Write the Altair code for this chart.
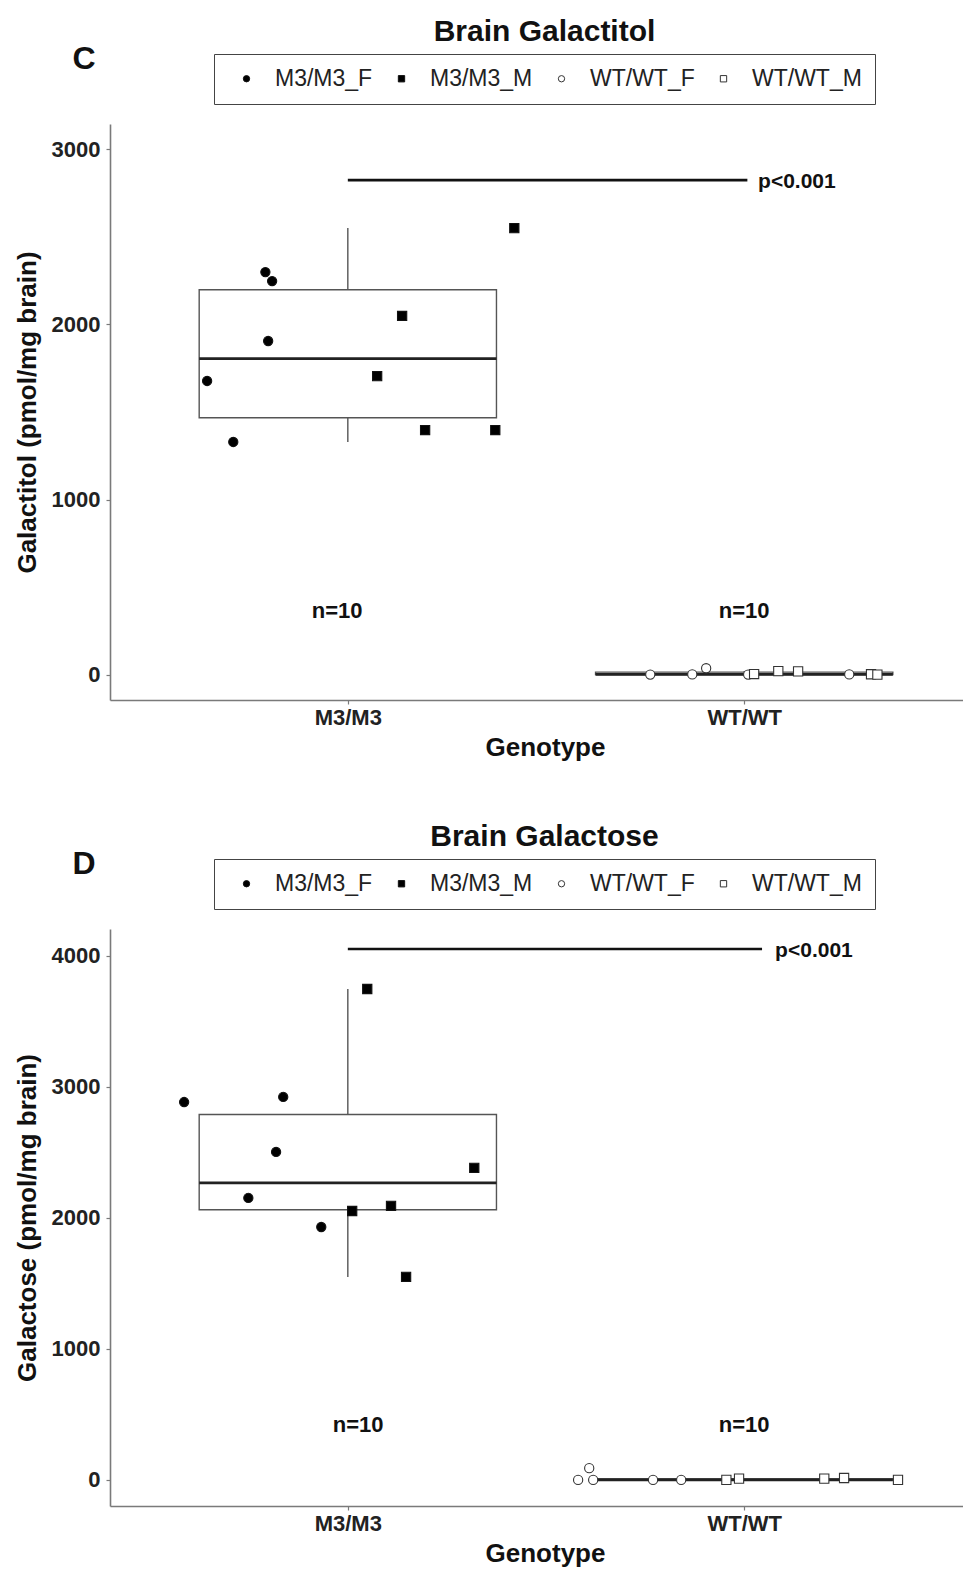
import altair as alt
import pandas as pd

FONT = "Liberation Sans"

genotypes = ["M3/M3", "WT/WT"]
groups = ["M3/M3_F", "M3/M3_M", "WT/WT_F", "WT/WT_M"]
group_shapes = ["circle", "square", "circle", "square"]
group_fills = ["black", "black", "white", "white"]
group_strokes = ["#111111", "#111111", "#333333", "#333333"]
n_labels = ["n=10", "n=10"]

# ---- Panel C : Brain Galactitol ----
c_group = ["M3/M3_F"] * 5 + ["M3/M3_M"] * 5 + ["WT/WT_F"] * 5 + ["WT/WT_M"] * 5
c_xpos = [0.792, 0.809, 0.799, 0.645, 0.711,
          1.420, 1.137, 1.074, 1.195, 1.372,
          1.763, 1.869, 1.904, 2.010, 2.265,
          2.025, 2.086, 2.136, 2.320, 2.336]
c_value = [2298, 2247, 1905, 1677, 1329,
           2549, 2048, 1705, 1397, 1397,
           2, 3, 38, 2, 3,
           5, 22, 20, 4, 2]
c_yticks = [0, 1000, 2000, 3000]
c_ydomain = [-143, 3143]
c_sig_x = [1.0, 2.008]
c_sig_y = 2823
c_p_pos = [2.035, 2812]
c_n_x = [0.973, 2.0]
c_n_y = 365

# ---- Panel D : Brain Galactose ----
d_group = ["M3/M3_F"] * 5 + ["M3/M3_M"] * 5 + ["WT/WT_F"] * 5 + ["WT/WT_M"] * 5
d_xpos = [0.587, 0.837, 0.819, 0.749, 0.933,
          1.049, 1.319, 1.011, 1.109, 1.147,
          1.581, 1.609, 1.619, 1.770, 1.841,
          1.955, 1.987, 2.202, 2.252, 2.388]
d_value = [2885, 2924, 2504, 2153, 1931,
           3748, 2382, 2053, 2092, 1550,
           0, 90, 0, 0, 0,
           0, 10, 10, 15, 0]
d_yticks = [0, 1000, 2000, 3000, 4000]
d_ydomain = [-199, 4206]
d_sig_x = [1.0, 2.045]
d_sig_y = 4053
d_p_pos = [2.078, 4038]
d_n_x = [1.026, 2.0]
d_n_y = 420

X_DOMAIN = [0.4, 2.552]
label_expr = f"datum.value == 1 ? '{genotypes[0]}' : '{genotypes[1]}'"


def panel(title, letter, ytitle, grp, xs, vals, yticks, ydomain,
          sig_x, sig_y, p_pos, n_x, n_y, height):
    pts = pd.DataFrame({"group": grp, "xpos": xs, "value": vals})
    pts["genotype"] = pts["group"].str.rsplit("_", n=1).str[0]

    xs_ = alt.Scale(domain=X_DOMAIN, nice=False, zero=False)
    ys_ = alt.Scale(domain=ydomain, nice=False, zero=False)
    xaxis = alt.Axis(values=[1, 2], labelExpr=label_expr, title="Genotype",
                     tickSize=4, labelPadding=3, titlePadding=6, labelFlush=False,
                     titleX=435)
    yaxis = alt.Axis(values=yticks, title=ytitle, format="d",
                     tickSize=4, labelPadding=6, titlePadding=11)

    stats = (
        alt.Chart(pts)
        .transform_joinaggregate(q1="q1(value)", q3="q3(value)", med="median(value)",
                                 groupby=["genotype"])
        .transform_calculate(lo="datum.q1 - 1.5*(datum.q3 - datum.q1)",
                             hi="datum.q3 + 1.5*(datum.q3 - datum.q1)")
        .transform_filter("datum.value >= datum.lo && datum.value <= datum.hi")
        .transform_aggregate(wlo="min(value)", whi="max(value)",
                             groupby=["genotype", "q1", "q3", "med"])
        .transform_calculate(pos=f"indexof({genotypes!r}, datum.genotype) + 1")
        .transform_calculate(xl="datum.pos - 0.375", xr="datum.pos + 0.375")
    )

    whisker = stats.mark_rule(color="#555555", strokeWidth=1.4).encode(
        x=alt.X("pos:Q", scale=xs_, axis=xaxis),
        y=alt.Y("wlo:Q", scale=ys_, axis=yaxis),
        y2="whi:Q",
    )
    box = stats.mark_rect(fill="white", stroke="#555555", strokeWidth=1.4).encode(
        x=alt.X("xl:Q", scale=xs_), x2="xr:Q",
        y=alt.Y("q1:Q", scale=ys_), y2="q3:Q",
    )
    median = stats.mark_rule(color="#222222", strokeWidth=2.8).encode(
        x=alt.X("xl:Q", scale=xs_), x2="xr:Q",
        y=alt.Y("med:Q", scale=ys_),
    )

    leg = alt.Legend(
        title=None, orient="none", legendX=104, legendY=-70,
        direction="horizontal", columns=4,
        labelFont=FONT, labelFontSize=23, labelColor="#222222",
        symbolSize=40, symbolStrokeWidth=1,
        strokeColor="#444444", fillColor="white", padding=13,
        columnPadding=9, labelOffset=17, symbolOffset=8,
    )
    points = alt.Chart(pts).mark_point(
        filled=True, size=85, strokeWidth=1.1, opacity=1
    ).encode(
        x=alt.X("xpos:Q", scale=xs_),
        y=alt.Y("value:Q", scale=ys_),
        shape=alt.Shape("group:N", scale=alt.Scale(domain=groups, range=group_shapes), legend=leg),
        fill=alt.Fill("group:N", scale=alt.Scale(domain=groups, range=group_fills), legend=leg),
        stroke=alt.Stroke("group:N", scale=alt.Scale(domain=groups, range=group_strokes), legend=leg),
    )

    sig = alt.Chart(pd.DataFrame({"x1": [sig_x[0]], "x2": [sig_x[1]], "y": [sig_y]})).mark_rule(
        color="#111111", strokeWidth=2.6
    ).encode(x=alt.X("x1:Q", scale=xs_), x2="x2:Q", y=alt.Y("y:Q", scale=ys_))

    ptxt = alt.Chart(pd.DataFrame({"x": [p_pos[0]], "y": [p_pos[1]], "t": ["p<0.001"]})).mark_text(
        align="left", baseline="middle", font=FONT, fontSize=21, fontWeight="bold", color="#111111"
    ).encode(x=alt.X("x:Q", scale=xs_), y=alt.Y("y:Q", scale=ys_), text="t:N")

    ntxt = alt.Chart(pd.DataFrame({"x": n_x, "y": [n_y] * 2, "t": n_labels})).mark_text(
        align="center", baseline="middle", font=FONT, fontSize=22, fontWeight="bold", color="#111111"
    ).encode(x=alt.X("x:Q", scale=xs_), y=alt.Y("y:Q", scale=ys_), text="t:N")

    letter_txt = alt.Chart(pd.DataFrame({"t": [letter]})).mark_text(
        align="center", baseline="middle", font=FONT, fontSize=32, fontWeight="bold", color="#111111"
    ).encode(x=alt.value(-26), y=alt.value(-65), text="t:N")

    return alt.layer(whisker, box, median, points, sig, ptxt, ntxt, letter_txt).properties(
        width=853, height=height,
        title=alt.TitleParams(text=title, font=FONT, fontSize=30, fontWeight="bold",
                              anchor="middle", frame="group", offset=-34, dx=8,
                              baseline="bottom", color="#111111"),
    )


c_chart = panel("Brain Galactitol", "C", "Galactitol (pmol/mg brain)", c_group, c_xpos, c_value,
                c_yticks, c_ydomain, c_sig_x, c_sig_y, c_p_pos, c_n_x, c_n_y, 576)
d_chart = panel("Brain Galactose", "D", "Galactose (pmol/mg brain)", d_group, d_xpos, d_value,
                d_yticks, d_ydomain, d_sig_x, d_sig_y, d_p_pos, d_n_x, d_n_y, 577)

chart = (
    alt.vconcat(c_chart, d_chart, spacing=62)
    .resolve_scale(shape="independent", fill="independent", stroke="independent")
    .resolve_legend(shape="independent", fill="independent", stroke="independent")
    .properties(padding={"left": 6, "top": 9, "right": 0, "bottom": 10})
    .configure_view(stroke=None)
    .configure_axis(
        grid=False,
        domainColor="#7a7a7a", domainWidth=1.6,
        tickColor="#7a7a7a", tickWidth=1.2,
        labelFont=FONT, labelFontSize=22, labelFontWeight="bold", labelColor="#222222",
        titleFont=FONT, titleFontSize=26, titleFontWeight="bold", titleColor="#111111",
    )
)

chart.save("out.html", embed_options={"renderer": "svg", "actions": False})
